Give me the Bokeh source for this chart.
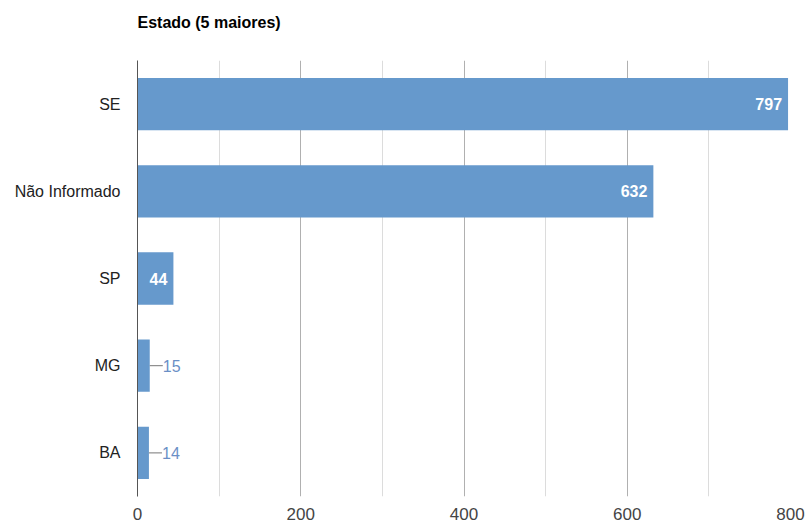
from bokeh.plotting import figure
from bokeh.models import ColumnDataSource, FixedTicker, FactorRange, Range1d, Title
from bokeh.core.properties import value
from bokeh.embed import file_html
from bokeh.resources import INLINE

categories = ["SE", "Não Informado", "SP", "MG", "BA"]
counts = [797, 632, 44, 15, 14]
x_ticks = [0, 200, 400, 600, 800]
x_minor = [100, 300, 500, 700]
title_text = "Estado (5 maiores)"

BAR = "#6699CC"
FONT = "Liberation Sans"
INSIDE_MIN = 30
LEADER = 16

p = figure(width=808, height=522, output_backend="svg", toolbar_location=None,
           y_range=FactorRange(factors=list(reversed(categories))),
           x_range=Range1d(0, 800),
           min_border_left=137, min_border_right=18, min_border_top=60, min_border_bottom=25)
p.outline_line_color = None
p.title.text = title_text
p.title.text_font = FONT
p.title.text_font_size = "16px"
p.title.text_font_style = "bold"
p.title.text_color = "#000000"
p.title.align = "left"
p.title.standoff = 0
# empty spacer panel between the title and the plot frame
p.add_layout(Title(text=" ", text_font=FONT, text_font_size="16px", standoff=11), "above")

src = ColumnDataSource(dict(cat=categories, val=counts))
p.hbar(y="cat", right="val", left=0, height=0.6, source=src, color=BAR, line_color=None)

ins = [i for i, v in enumerate(counts) if v >= INSIDE_MIN]
outs = [i for i, v in enumerate(counts) if v < INSIDE_MIN]
src_in = ColumnDataSource(dict(cat=[categories[i] for i in ins], val=[counts[i] for i in ins],
                               lab=[str(counts[i]) for i in ins]))
src_out = ColumnDataSource(dict(cat=[categories[i] for i in outs], val=[counts[i] for i in outs],
                                end=[counts[i] + LEADER for i in outs],
                                lab=[str(counts[i]) for i in outs]))
p.text(x="val", y="cat", text="lab", source=src_in, x_offset=-6, text_align="right",
       text_baseline="middle", text_color="white", text_font=value(FONT),
       text_font_size="16px", text_font_style="bold")
p.segment(x0="val", y0="cat", x1="end", y1="cat", source=src_out, line_color="#777777", line_width=1)
p.text(x="end", y="cat", text="lab", source=src_out, x_offset=0, text_align="left",
       text_baseline="middle", text_color="#6a8fc6", text_font=value(FONT), text_font_size="16px")

p.xaxis.ticker = FixedTicker(ticks=x_ticks, minor_ticks=x_minor)
p.xaxis.axis_line_color = None
p.xaxis.major_tick_line_color = None
p.xaxis.minor_tick_line_color = None
p.xaxis.major_label_text_font = FONT
p.xaxis.major_label_text_font_size = "17px"
p.xaxis.major_label_text_color = "#444444"
p.xaxis.major_label_standoff = 5

p.yaxis.axis_line_color = "#555555"
p.yaxis.major_tick_line_color = None
p.yaxis.minor_tick_line_color = None
p.yaxis.major_label_text_font = FONT
p.yaxis.major_label_text_font_size = "16px"
p.yaxis.major_label_text_color = "#222222"
p.yaxis.major_label_standoff = 11

p.ygrid.grid_line_color = None
p.xgrid.grid_line_color = "#b0b0b0"
p.xgrid.minor_grid_line_color = "#dcdcdc"
p.xgrid.level = "underlay"

open("out.html", "w").write(file_html(p, INLINE))
